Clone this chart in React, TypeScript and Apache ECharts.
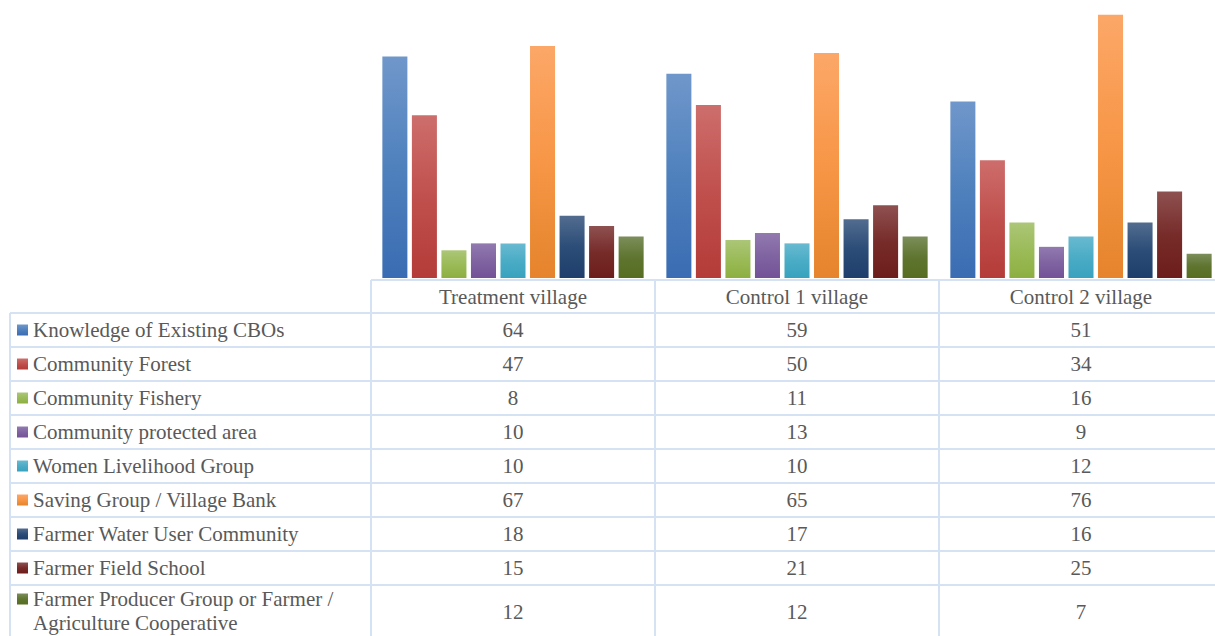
import React, { useEffect, useRef } from "react";
import * as echarts from "echarts";

const categories = ["Treatment village", "Control 1 village", "Control 2 village"];
const seriesNames = [
  "Knowledge of Existing CBOs",
  "Community Forest",
  "Community Fishery",
  "Community protected area",
  "Women Livelihood Group",
  "Saving Group / Village Bank",
  "Farmer Water User Community",
  "Farmer Field School",
  "Farmer Producer Group or Farmer / Agriculture Cooperative",
];
const seriesLabelLines = [
  ["Knowledge of Existing CBOs"],
  ["Community Forest"],
  ["Community Fishery"],
  ["Community protected area"],
  ["Women Livelihood Group"],
  ["Saving Group / Village Bank"],
  ["Farmer Water User Community"],
  ["Farmer Field School"],
  ["Farmer Producer Group or Farmer /", "Agriculture Cooperative"],
];
const knowledgeCBOs = [64, 59, 51];
const communityForest = [47, 50, 34];
const communityFishery = [8, 11, 16];
const protectedArea = [10, 13, 9];
const womenLivelihood = [10, 10, 12];
const savingGroup = [67, 65, 76];
const waterUser = [18, 17, 16];
const fieldSchool = [15, 21, 25];
const producerGroup = [12, 12, 7];
const seriesValues = [
  knowledgeCBOs, communityForest, communityFishery, protectedArea, womenLivelihood,
  savingGroup, waterUser, fieldSchool, producerGroup,
];

// [top, middle, bottom] gradient colours
const palette = [
  ["#7097CB", "#4F81BD", "#3A6CB3"],
  ["#CD6E6C", "#C0504D", "#B43B38"],
  ["#ACC677", "#9BBB59", "#8DAF40"],
  ["#927AAF", "#8064A2", "#735296"],
  ["#68BAD0", "#4BACC6", "#38A2BE"],
  ["#FCA768", "#F79646", "#E5842C"],
  ["#526C8F", "#2C4D78", "#1F3E6B"],
  ["#8E5150", "#772C2A", "#6C1D1B"],
  ["#7C8E5B", "#5F7530", "#566D21"],
];

const FONT = "Liberation Serif";
const FONT_SIZE = 21;
const TEXT_COLOR = "#595959";
const LINE_COLOR = "#D5E2F3";

export default function App() {
  const ref = useRef<HTMLDivElement>(null);
  useEffect(() => {
    if (!ref.current) return;
    const chart = echarts.init(ref.current, undefined, { renderer: "svg" });

    const W = 1223;
    const gridLeft = 371;
    const baseY = 278;
    const tableTop = 280;
    const rowTop = 313;
    const rowH = 34;
    const colW = (W - gridLeft) / categories.length;
    const leftX = 10;
    const bottom = 640;
    const font = `${FONT_SIZE}px "${FONT}"`;

    const graphics: any[] = [];
    const line = (x1: number, y1: number, x2: number, y2: number) =>
      graphics.push({
        type: "line",
        silent: true,
        shape: { x1, y1, x2, y2 },
        style: { stroke: LINE_COLOR, lineWidth: 2 },
      });

    line(gridLeft, tableTop, W, tableTop);
    for (let i = 0; i < seriesNames.length; i++) {
      line(leftX, rowTop + i * rowH, W, rowTop + i * rowH);
    }
    line(leftX, rowTop, leftX, bottom);
    for (let c = 0; c <= categories.length; c++) {
      line(gridLeft + c * colW, tableTop, gridLeft + c * colW, bottom);
    }
    categories.forEach((cat, c) => {
      graphics.push({
        type: "text",
        x: gridLeft + (c + 0.5) * colW,
        y: (tableTop + rowTop) / 2,
        style: { text: cat, font, fill: TEXT_COLOR, align: "center", verticalAlign: "middle" },
      });
    });
    seriesNames.forEach((name, i) => {
      const lines = seriesLabelLines[i];
      const top = rowTop + i * rowH;
      const multi = lines.length > 1;
      const cy = multi ? top + 27 : top + rowH / 2;
      const firstLineY = multi ? top + 14 : cy;
      const lineStep = 24;
      graphics.push({
        type: "rect",
        shape: { x: 17, y: firstLineY - 5.5, width: 11, height: 11 },
        style: {
          fill: new echarts.graphic.LinearGradient(0, 0, 0, 1, [
            { offset: 0, color: palette[i][0] },
            { offset: 0.5, color: palette[i][1] },
            { offset: 1, color: palette[i][2] },
          ]),
        },
      });
      lines.forEach((t, k) => {
        graphics.push({
          type: "text",
          x: 33,
          y: firstLineY + k * lineStep,
          style: { text: t, font, fill: TEXT_COLOR, align: "left", verticalAlign: "middle" },
        });
      });
      seriesValues[i].forEach((v, c) => {
        graphics.push({
          type: "text",
          x: gridLeft + (c + 0.5) * colW,
          y: cy,
          style: { text: String(v), font, fill: TEXT_COLOR, align: "center", verticalAlign: "middle" },
        });
      });
    });

    chart.setOption({
      animation: false,
      backgroundColor: "#ffffff",
      grid: { left: gridLeft, right: 0, top: 1, bottom: 636 - baseY },
      xAxis: {
        type: "category",
        data: categories,
        axisLine: { show: false },
        axisTick: { show: false },
        axisLabel: { show: false },
      },
      yAxis: {
        type: "value",
        min: 0,
        max: 80,
        show: false,
        splitLine: { show: false },
      },
      series: seriesNames.map((name, i) => ({
        type: "bar",
        name,
        data: seriesValues[i],
        barCategoryGap: "8%",
        barGap: "18%",
        itemStyle: {
          color: new echarts.graphic.LinearGradient(0, 0, 0, 1, [
            { offset: 0, color: palette[i][0] },
            { offset: 0.5, color: palette[i][1] },
            { offset: 1, color: palette[i][2] },
          ]),
        },
      })),
      graphic: graphics,
    });
    return () => chart.dispose();
  }, []);

  return (
    <div style={{ position: "fixed", left: 0, top: 0, width: 1215, height: 636, overflow: "hidden", background: "#fff" }}>
      <div ref={ref} style={{ width: 1223, height: 636 }} />
    </div>
  );
}
